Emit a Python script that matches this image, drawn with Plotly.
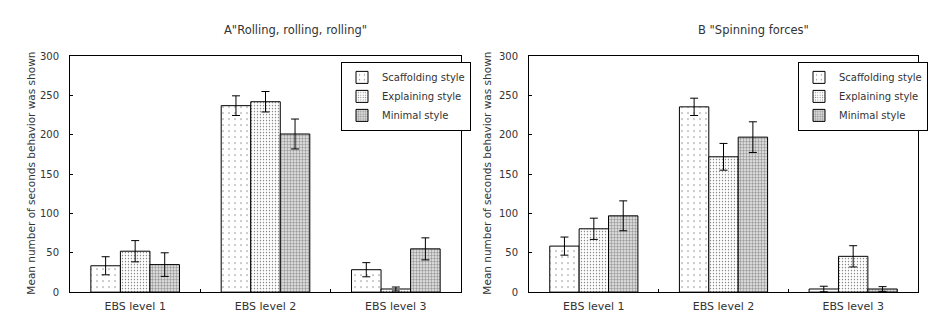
import plotly.graph_objects as go

categories = ["EBS level 1", "EBS level 2", "EBS level 3"]
styles = ["Scaffolding style", "Explaining style", "Minimal style"]

# Panel A "Rolling, rolling, rolling"
a_scaffolding = [33.5, 237, 28.5]
a_scaffolding_err = [11.5, 12.5, 9]
a_explaining = [52, 242, 4]
a_explaining_err = [13.5, 13, 2.5]
a_minimal = [35, 201, 55]
a_minimal_err = [15, 19, 14]

# Panel B "Spinning forces"
b_scaffolding = [58.5, 235.5, 4]
b_scaffolding_err = [11.5, 11, 3.5]
b_explaining = [80.5, 172, 45.5]
b_explaining_err = [13.5, 17, 13.5]
b_minimal = [97, 197, 4]
b_minimal_err = [19, 19.5, 3]

y_ticks = [0, 50, 100, 150, 200, 250, 300]

patterns = [
    dict(shape=".", size=6, solidity=0.05, fgcolor="black", bgcolor="white"),
    dict(shape=".", size=3, solidity=0.18, fgcolor="black", bgcolor="white"),
    dict(shape=".", size=3, solidity=0.5, fgcolor="#444444", bgcolor="#eeeeee"),
]

FONT = "DejaVu Sans, Liberation Sans, sans-serif"
TXT = "#333"
fig = go.Figure()

panels = [
    ("x", "y", "legend", [a_scaffolding, a_explaining, a_minimal],
     [a_scaffolding_err, a_explaining_err, a_minimal_err]),
    ("x2", "y2", "legend2", [b_scaffolding, b_explaining, b_minimal],
     [b_scaffolding_err, b_explaining_err, b_minimal_err]),
]

for xa, ya, leg, vals, errs in panels:
    for i, name in enumerate(styles):
        fig.add_trace(go.Bar(
            x=categories, y=vals[i], name=name, xaxis=xa, yaxis=ya, legend=leg,
            marker=dict(color="white", pattern=patterns[i],
                        line=dict(color="black", width=1)),
            error_y=dict(type="data", array=errs[i], color="black",
                         thickness=1, width=4),
            offsetgroup=str(i),
        ))

W, H = 938, 328
def px_x(p): return p / W
def px_y(p): return 1 - p / H

axis_common = dict(
    showline=True, linecolor="black", linewidth=1, mirror=True,
    showgrid=False, zeroline=False,
)

legend_common = dict(
    xanchor="left", yanchor="top",
    bordercolor="black", borderwidth=1, bgcolor="white",
    font=dict(family=FONT, size=10, color=TXT),
    itemwidth=30, tracegroupgap=0,
)

xfont = dict(family=FONT, size=11, color=TXT)
yfont = dict(family=FONT, size=10, color=TXT)

fig.update_layout(
    width=W, height=H,
    margin=dict(l=0, r=0, t=0, b=0),
    paper_bgcolor="white", plot_bgcolor="white",
    barmode="group", bargap=0.32, bargroupgap=0,
    showlegend=True,
    xaxis=dict(domain=[px_x(70), px_x(461)], anchor="y", ticks="inside",
               tickson="boundaries", ticklen=3, tickcolor="black",
               tickfont=xfont, ticklabelstandoff=4, **axis_common),
    yaxis=dict(domain=[px_y(297), px_y(52)], anchor="x", range=[0, 300],
               tickvals=y_ticks, ticks="inside", ticklen=3, tickcolor="black",
               tickfont=yfont, ticklabelstandoff=8, **axis_common),
    xaxis2=dict(domain=[px_x(529), px_x(918)], anchor="y2", ticks="inside",
                tickson="boundaries", ticklen=3, tickcolor="black",
                tickfont=xfont, ticklabelstandoff=4, **axis_common),
    yaxis2=dict(domain=[px_y(297), px_y(52)], anchor="x2", range=[0, 300],
                tickvals=y_ticks, ticks="inside", ticklen=3, tickcolor="black",
                tickfont=yfont, ticklabelstandoff=8, **axis_common),
    legend=dict(x=px_x(341), y=px_y(58), **legend_common),
    legend2=dict(x=px_x(798), y=px_y(58), **legend_common),
    font=dict(family=FONT, size=10, color=TXT),
)

annotations = [
    dict(text='A"Rolling, rolling, rolling"', x=px_x(295), y=px_y(25), size=11.5),
    dict(text='B "Spinning forces"', x=px_x(753), y=px_y(25), size=11.5),
    dict(text="Mean number of seconds behavior was shown", x=px_x(31), y=px_y(174),
         textangle=-90, size=10.5),
    dict(text="Mean number of seconds behavior was shown", x=px_x(487), y=px_y(174),
         textangle=-90, size=10.5),
]
for a in annotations:
    size = a.pop("size")
    fig.add_annotation(xref="paper", yref="paper", showarrow=False,
                       xanchor="center", yanchor="middle",
                       font=dict(family=FONT, size=size, color=TXT), **a)

fig.write_html("out.html")
